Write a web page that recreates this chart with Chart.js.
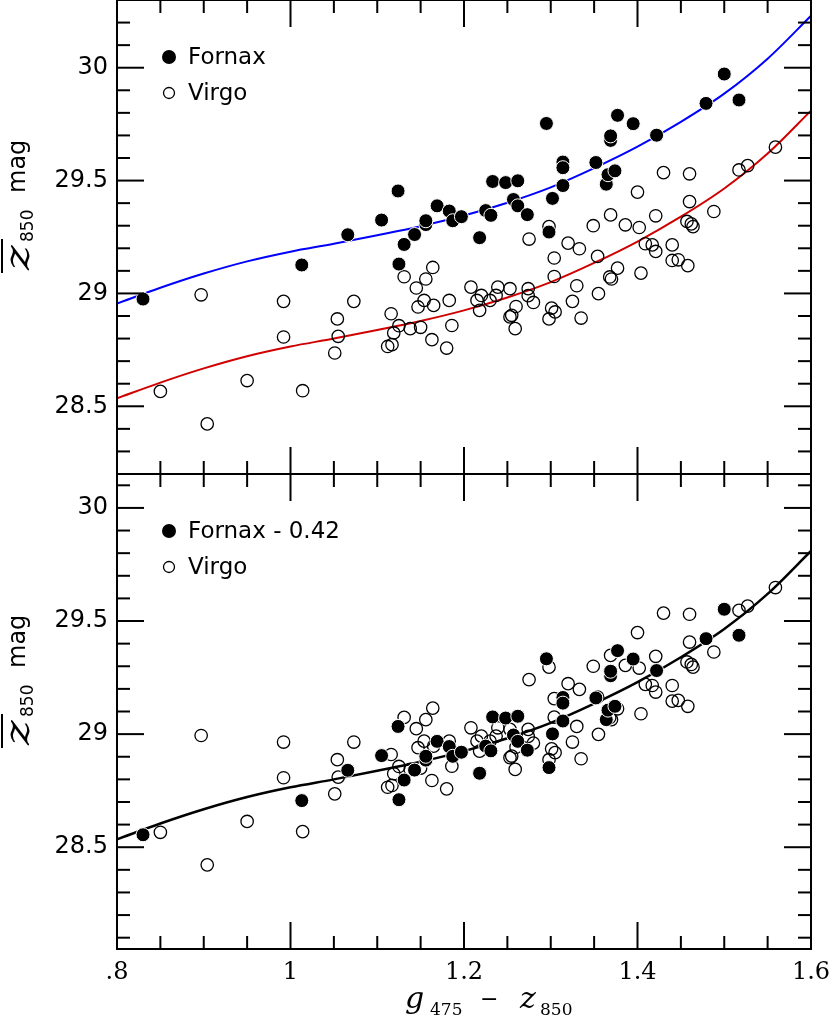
<!DOCTYPE html>
<html>
<head>
<meta charset="utf-8">
<script src="https://cdn.jsdelivr.net/npm/chart.js@4.4.1/dist/chart.umd.min.js"></script>
<style>
  body { margin: 0; background: #fff; }
  #wrap { position: relative; width: 830px; height: 1017px; }
  canvas { position: absolute; left: 0; }
  #topPanel { top: 0; }
  #bottomPanel { top: 474px; }
</style>
</head>
<body>
<div id="wrap">
  <canvas id="topPanel" width="830" height="475"></canvas>
  <canvas id="bottomPanel" width="830" height="543"></canvas>
</div>
<script>
// ---- values ----
const xTickValues = [0.8, 1.0, 1.2, 1.4, 1.6];
const yTickValues = [28.5, 29.0, 29.5, 30.0];

// Fornax galaxies (filled)
const fornaxColor = [0.830, 1.013, 1.066, 1.105, 1.124, 1.125, 1.131, 1.143, 1.156, 1.156,
  1.169, 1.183, 1.187, 1.197, 1.218, 1.225, 1.231, 1.233, 1.248, 1.257,
  1.262, 1.262, 1.273, 1.295, 1.298, 1.302, 1.314, 1.314, 1.314, 1.352,
  1.364, 1.366, 1.374, 1.369, 1.369, 1.377, 1.395, 1.422, 1.479, 1.500, 1.517];
const fornaxMag = [28.975, 29.126, 29.260, 29.325, 29.454, 29.130, 29.217, 29.261, 29.305, 29.322,
  29.388, 29.365, 29.322, 29.340, 29.247, 29.367, 29.346, 29.496, 29.491, 29.416,
  29.499, 29.388, 29.349, 29.753, 29.272, 29.421, 29.582, 29.557, 29.478, 29.580,
  29.484, 29.526, 29.543, 29.678, 29.698, 29.789, 29.752, 29.701, 29.842, 29.972, 29.857];
// same galaxies after the 0.42 mag shift (lower panel)
const fornaxShiftedMag = [28.555, 28.706, 28.840, 28.905, 29.034, 28.710, 28.797, 28.841, 28.885, 28.902,
  28.968, 28.945, 28.902, 28.920, 28.827, 28.947, 28.926, 29.076, 29.071, 28.996,
  29.079, 28.968, 28.929, 29.333, 28.852, 29.001, 29.162, 29.137, 29.058, 29.160,
  29.064, 29.106, 29.123, 29.258, 29.278, 29.369, 29.332, 29.281, 29.422, 29.552, 29.437];

// Virgo galaxies (open)
const virgoColor = [0.850, 0.897, 0.904, 0.950, 0.992, 0.992, 1.014, 1.051, 1.054, 1.055,
  1.073, 1.112, 1.117, 1.116, 1.119, 1.125, 1.131, 1.138, 1.145, 1.147,
  1.150, 1.154, 1.156, 1.164, 1.165, 1.163, 1.180, 1.183, 1.186, 1.208,
  1.215, 1.220, 1.218, 1.230, 1.237, 1.239, 1.253, 1.260, 1.253, 1.255,
  1.259, 1.274, 1.274, 1.280, 1.275, 1.298, 1.301, 1.305, 1.298, 1.304,
  1.304, 1.320, 1.333, 1.354, 1.330, 1.325, 1.335, 1.355, 1.377, 1.368,
  1.370, 1.404, 1.409, 1.417, 1.421, 1.440, 1.440, 1.447, 1.458, 1.349,
  1.369, 1.386, 1.402, 1.400, 1.421, 1.430, 1.460, 1.460, 1.457, 1.462,
  1.464, 1.488, 1.517, 1.527, 1.559];
const virgoMag = [28.566, 28.994, 28.422, 28.614, 28.965, 28.807, 28.569, 28.736, 28.887, 28.810,
  28.965, 28.765, 28.773, 28.910, 28.825, 28.857, 29.074, 28.844, 29.024, 28.940,
  28.850, 28.969, 29.064, 29.115, 28.947, 28.795, 28.758, 28.969, 28.858, 29.028,
  28.969, 28.991, 28.925, 28.969, 28.991, 29.028, 29.021, 28.942, 28.896, 28.903,
  28.844, 29.021, 28.990, 28.960, 29.241, 29.296, 28.935, 28.918, 28.887, 29.157,
  29.075, 29.223, 29.198, 29.164, 29.034, 28.965, 28.891, 28.999, 29.112, 29.073,
  29.064, 29.090, 29.220, 29.215, 29.186, 29.215, 29.146, 29.149, 29.123, 29.300,
  29.348, 29.304, 29.292, 29.449, 29.344, 29.535, 29.530, 29.407, 29.319, 29.308,
  29.296, 29.363, 29.547, 29.566, 29.648];

// fitted relations
const fitColor = [0.80, 0.85, 0.90, 0.95, 1.00, 1.05, 1.10, 1.15, 1.20, 1.25, 1.30, 1.35, 1.40, 1.45, 1.50, 1.55, 1.60];
const virgoFitMag = [28.535, 28.605, 28.668, 28.722, 28.765, 28.800, 28.838, 28.878, 28.925, 28.982, 29.050, 29.135, 29.230, 29.340, 29.465, 29.620, 29.810];
const fornaxFitMag = [28.955, 29.025, 29.088, 29.142, 29.185, 29.220, 29.258, 29.298, 29.345, 29.402, 29.470, 29.555, 29.650, 29.760, 29.885, 30.040, 30.230];

// ---- helpers ----
function toPoints(xs, ys) {
  return xs.map((x, i) => ({ x: x, y: ys[i] }));
}

function line(ctx, x1, y1, x2, y2) {
  ctx.beginPath();
  ctx.moveTo(x1, y1);
  ctx.lineTo(x2, y2);
  ctx.stroke();
}

// box with inward ticks on all four sides
const framePlugin = {
  id: 'frame',
  afterDraw(chart) {
    const ctx = chart.ctx;
    const a = chart.chartArea;
    const xs = chart.scales.x;
    const ys = chart.scales.y;
    ctx.save();
    ctx.strokeStyle = '#000';
    ctx.lineWidth = 2;
    // x: small tick every 0.05, long tick every 0.2
    for (let k = 16; k <= 32; k++) {
      const px = xs.getPixelForValue(k / 20);
      const len = k % 4 === 0 ? 27 : 13;
      line(ctx, px, a.bottom, px, a.bottom - len);
      line(ctx, px, a.top, px, a.top + len);
    }
    // y: small tick every 0.1, long tick every 0.5
    const k0 = Math.ceil(ys.min * 10 - 1e-6);
    const k1 = Math.floor(ys.max * 10 + 1e-6);
    for (let k = k0; k <= k1; k++) {
      const py = ys.getPixelForValue(k / 10);
      const len = k % 5 === 0 ? 27 : 13;
      line(ctx, a.left, py, a.left + len, py);
      line(ctx, a.right, py, a.right - len, py);
    }
    ctx.strokeRect(a.left, a.top, a.right - a.left, a.bottom - a.top);
    ctx.restore();
  }
};

function drawYTitle(ctx, base) {
  ctx.save();
  ctx.translate(0, base);
  ctx.rotate(-Math.PI / 2);
  ctx.fillStyle = '#000';
  ctx.strokeStyle = '#000';
  ctx.textBaseline = 'alphabetic';
  ctx.save();
  ctx.scale(1.3, 1);
  ctx.font = 'italic 36px "DejaVu Serif"';
  ctx.fillText('z', 0, 29);
  ctx.restore();
  ctx.lineWidth = 2;
  line(ctx, -3, 2, 31, 2);
  ctx.font = '17px "DejaVu Sans"';
  ctx.fillText('850', 28, 33);
  ctx.font = '24px "DejaVu Sans"';
  ctx.fillText('mag', 77, 25);
  ctx.restore();
}

function drawLegend(ctx, yFilled, yOpen, label1, label2) {
  ctx.save();
  ctx.fillStyle = '#000';
  ctx.strokeStyle = '#000';
  ctx.beginPath();
  ctx.arc(169, yFilled, 7, 0, Math.PI * 2);
  ctx.fill();
  ctx.lineWidth = 1.3;
  ctx.beginPath();
  ctx.arc(169, yOpen, 5.5, 0, Math.PI * 2);
  ctx.stroke();
  ctx.font = '23px "DejaVu Sans"';
  ctx.textBaseline = 'alphabetic';
  ctx.fillText(label1, 188, yFilled + 7);
  ctx.fillText(label2, 188, yOpen + 7);
  ctx.restore();
}

function drawXTitle(ctx, b) {
  ctx.save();
  ctx.fillStyle = '#000';
  ctx.textBaseline = 'alphabetic';
  ctx.font = 'italic 30px "DejaVu Serif"';
  ctx.fillText('g', 405, b);
  ctx.font = '17px "DejaVu Serif"';
  ctx.fillText('475', 430, b + 7);
  ctx.font = '22px "DejaVu Sans"';
  ctx.fillText('\u2212', 480, b - 2);
  ctx.font = 'italic 30px "DejaVu Serif"';
  ctx.fillText('z', 520, b);
  ctx.font = '17px "DejaVu Serif"';
  ctx.fillText('850', 540, b + 7);
  ctx.restore();
}

function curveSet(ys, color, width) {
  return {
    data: toPoints(fitColor, ys),
    showLine: true,
    borderColor: color,
    borderWidth: width,
    pointRadius: 0,
    cubicInterpolationMode: 'monotone',
    order: 3
  };
}

function fornaxSet(ys) {
  return {
    data: toPoints(fornaxColor, ys),
    pointRadius: 7,
    backgroundColor: '#000',
    borderColor: '#fff',
    borderWidth: 1,
    order: 1
  };
}

const virgoSet = () => ({
  data: toPoints(virgoColor, virgoMag),
  pointRadius: 6.2,
  backgroundColor: 'rgba(0,0,0,0)',
  borderColor: '#000',
  borderWidth: 1.3,
  order: 2
});

function yScale(min, max) {
  return {
    type: 'linear',
    min: min,
    max: max,
    grid: { display: false, drawTicks: false },
    border: { display: false },
    afterBuildTicks: (s) => { s.ticks = yTickValues.map(v => ({ value: v })); },
    afterFit: (s) => { s.width = 117; s.paddingTop = 0; s.paddingBottom = 0; },
    ticks: {
      autoSkip: false,
      padding: 9,
      color: '#000',
      font: { family: 'DejaVu Sans', size: 24 },
      callback: (v) => String(v)
    }
  };
}

function panelOptions(xScale, yMin, yMax, bottomPad) {
  return {
    responsive: false,
    animation: false,
    devicePixelRatio: 1,
    layout: { autoPadding: false, padding: { left: 0, right: 19, top: 0, bottom: bottomPad } },
    plugins: { legend: { display: false }, tooltip: { enabled: false } },
    scales: { x: xScale, y: yScale(yMin, yMax) }
  };
}

document.addEventListener('DOMContentLoaded', function () {
  // upper panel: Fornax and Virgo as observed
  new Chart(document.getElementById('topPanel'), {
    type: 'scatter',
    data: {
      datasets: [
        curveSet(fornaxFitMag, '#0000ff', 2),
        curveSet(virgoFitMag, '#d00000', 2),
        virgoSet(),
        fornaxSet(fornaxMag)
      ]
    },
    options: panelOptions({ type: 'linear', min: 0.8, max: 1.6, display: false }, 28.2, 30.3, 1),
    plugins: [framePlugin, {
      id: 'topDecor',
      afterDraw(chart) {
        drawYTitle(chart.ctx, 270);
        drawLegend(chart.ctx, 57, 93, 'Fornax', 'Virgo');
      }
    }]
  });

  // lower panel: Fornax shifted by 0.42 mag
  new Chart(document.getElementById('bottomPanel'), {
    type: 'scatter',
    data: {
      datasets: [
        curveSet(virgoFitMag, '#000', 2.5),
        virgoSet(),
        fornaxSet(fornaxShiftedMag)
      ]
    },
    options: panelOptions({
      type: 'linear',
      min: 0.8,
      max: 1.6,
      grid: { display: false, drawTicks: false },
      border: { display: false },
      afterBuildTicks: (s) => { s.ticks = xTickValues.map(v => ({ value: v })); },
      afterFit: (s) => { s.height = 68; s.paddingLeft = 0; s.paddingRight = 0; },
      ticks: {
        autoSkip: false,
        maxRotation: 0,
        padding: 9,
        color: '#000',
        font: { family: 'DejaVu Serif', size: 24 },
        callback: (v) => (v < 1 ? String(v).slice(1) : String(v))
      }
    }, 28.05, 30.15, 0),
    plugins: [framePlugin, {
      id: 'bottomDecor',
      afterDraw(chart) {
        drawYTitle(chart.ctx, 271);
        drawLegend(chart.ctx, 57, 93, 'Fornax - 0.42', 'Virgo');
        drawXTitle(chart.ctx, 534);
      }
    }]
  });
});
</script>
</body>
</html>
